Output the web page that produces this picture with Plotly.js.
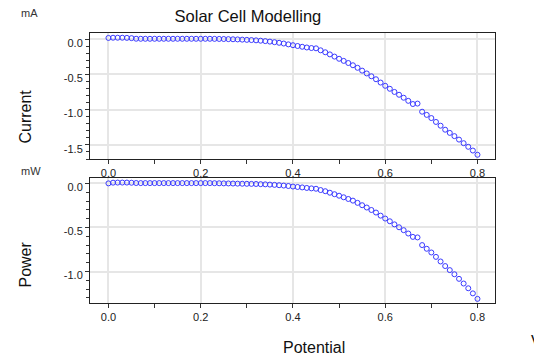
<!DOCTYPE html>
<html>
<head>
<meta charset="utf-8">
<script src="https://cdn.plot.ly/plotly-3.0.1.min.js"></script>
<style>html,body{margin:0;padding:0;background:#fff;}#chart{width:534px;height:358px;}</style>
</head>
<body>
<div id="chart"></div>
<script>
// Potential (V)
var potential = [0.00,0.01,0.02,0.03,0.04,0.05,0.06,0.07,0.08,0.09,
0.10,0.11,0.12,0.13,0.14,0.15,0.16,0.17,0.18,0.19,
0.20,0.21,0.22,0.23,0.24,0.25,0.26,0.27,0.28,0.29,
0.30,0.31,0.32,0.33,0.34,0.35,0.36,0.37,0.38,0.39,
0.40,0.41,0.42,0.43,0.44,0.45,0.46,0.47,0.48,0.49,
0.50,0.51,0.52,0.53,0.54,0.55,0.56,0.57,0.58,0.59,
0.60,0.61,0.62,0.63,0.64,0.65,0.66,0.67,0.68,0.69,
0.70,0.71,0.72,0.73,0.74,0.75,0.76,0.77,0.78,0.79,0.80];

// Current (mA)
var current = [0.015,0.018,0.018,0.018,0.016,0.012,0.004,0.003,0.003,0.003,
0.003,0.003,0.003,0.003,0.003,0.003,0.003,0.003,0.003,0.003,
0.003,0.003,0.003,0.002,0.001,0.000,-0.002,-0.004,-0.006,-0.009,
-0.012,-0.015,-0.019,-0.024,-0.030,-0.037,-0.045,-0.054,-0.064,-0.076,
-0.088,-0.099,-0.110,-0.120,-0.128,-0.132,-0.160,-0.188,-0.218,-0.249,
-0.280,-0.310,-0.340,-0.372,-0.408,-0.448,-0.488,-0.528,-0.570,-0.617,
-0.663,-0.705,-0.750,-0.790,-0.832,-0.876,-0.921,-0.915,-1.030,-1.075,
-1.120,-1.175,-1.228,-1.285,-1.330,-1.376,-1.425,-1.476,-1.527,-1.580,-1.640];

// Power (mW)
var power = [0.000,0.008,0.009,0.009,0.009,0.007,0.004,0.003,0.003,0.003,
0.003,0.003,0.003,0.003,0.003,0.003,0.003,0.003,0.003,0.003,
0.003,0.003,0.003,0.002,0.001,0.000,-0.001,-0.002,-0.003,-0.004,
-0.005,-0.006,-0.007,-0.009,-0.011,-0.014,-0.017,-0.021,-0.025,-0.030,
-0.036,-0.041,-0.046,-0.052,-0.057,-0.061,-0.076,-0.089,-0.106,-0.123,
-0.140,-0.158,-0.177,-0.196,-0.221,-0.248,-0.274,-0.302,-0.331,-0.366,
-0.399,-0.430,-0.465,-0.498,-0.531,-0.569,-0.607,-0.613,-0.700,-0.742,
-0.784,-0.834,-0.886,-0.938,-0.984,-1.031,-1.083,-1.136,-1.190,-1.248,-1.310];

// Tick values and labels
var xTickVals = [0, 0.2, 0.4, 0.6, 0.8];
var xTickText = ['0.0', '0.2', '0.4', '0.6', '0.8'];
var xMinorVals = [0.1, 0.3, 0.5, 0.7];
var currentTickVals = [0, -0.5, -1.0, -1.5];
var currentTickText = ['0.0', '-0.5', '-1.0', '-1.5'];
var powerTickVals = [0, -0.5, -1.0];
var powerTickText = ['0.0', '-0.5', '-1.0'];

var FONT = 'Arial, "Liberation Sans", sans-serif';
var markerStyle = {symbol: 'circle-open', size: 5, color: '#3a3aff', line: {width: 1, color: '#3a3aff'}};

var traces = [
  {x: potential, y: current, type: 'scatter', mode: 'markers', marker: markerStyle, xaxis: 'x', yaxis: 'y', hoverinfo: 'x+y'},
  {x: potential, y: power, type: 'scatter', mode: 'markers', marker: markerStyle, xaxis: 'x2', yaxis: 'y2', hoverinfo: 'x+y'}
];

function xAxis(anchor) {
  return {
    anchor: anchor, domain: [0, 1], range: [-0.040, 0.838],
    tickmode: 'array', tickvals: xTickVals, ticktext: xTickText,
    ticks: 'outside', ticklen: 4, tickcolor: '#333', tickwidth: 1,
    minor: {tickvals: xMinorVals, ticks: 'outside', ticklen: 4, tickcolor: '#333', showgrid: false},
    showline: true, linecolor: '#222', linewidth: 1, mirror: true,
    showgrid: true, gridcolor: '#e6e6e6', gridwidth: 2, zeroline: false,
    tickfont: {family: FONT, size: 11, color: '#222'}
  };
}
function yAxis(anchor, domain, range, vals, text) {
  return {
    anchor: anchor, domain: domain, range: range,
    tickmode: 'array', tickvals: vals, ticktext: text,
    ticks: 'outside', ticklen: 4, tickcolor: '#333', tickwidth: 1,
    minor: {dtick: 0.1, tick0: 0, ticks: 'outside', ticklen: 3, tickcolor: '#333', showgrid: false},
    showline: true, linecolor: '#222', linewidth: 1, mirror: true,
    showgrid: true, gridcolor: '#e6e6e6', gridwidth: 2, zeroline: false,
    ticklabelshift: 4,
    tickfont: {family: FONT, size: 11, color: '#222'}
  };
}

function ann(text, x, y, size, extra) {
  var a = {text: text, x: x, y: y, xref: 'paper', yref: 'paper', showarrow: false,
    xanchor: 'center', yanchor: 'middle', font: {family: FONT, size: size, color: '#111'}};
  for (var k in (extra || {})) a[k] = extra[k];
  return a;
}

var layout = {
  width: 534, height: 358,
  margin: {l: 90, r: 39, t: 33, b: 55, pad: 0},
  paper_bgcolor: '#fff', plot_bgcolor: '#fff',
  showlegend: false,
  title: {text: 'Solar Cell Modelling', x: 0.390, xref: 'paper', xanchor: 'center',
          y: 0.954, yref: 'container', yanchor: 'middle',
          font: {family: FONT, size: 16.5, color: '#111'}},
  xaxis: xAxis('y'),
  yaxis: yAxis('x', [0.5333, 1], [-1.70, 0.085], currentTickVals, currentTickText),
  xaxis2: xAxis('y2'),
  yaxis2: yAxis('x2', [0, 0.464], [-1.357, 0.064], powerTickVals, powerTickText),
  annotations: [
    ann('mA', -0.149, 1.074, 11, {font: {family: FONT, size: 11, color: '#333'}}),
    ann('mW', -0.146, 0.488, 11, {font: {family: FONT, size: 11, color: '#333'}}),
    ann('Current', -0.159, 0.689, 16, {textangle: -90}),
    ann('Power', -0.159, 0.141, 16, {textangle: -90}),
    ann('Potential', 0.552, -0.166, 16),
    ann('V', 1.084, -0.144, 16, {xanchor: 'left'})
  ]
};

Plotly.newPlot('chart', traces, layout, {displayModeBar: false, staticPlot: true});
</script>
</body>
</html>
